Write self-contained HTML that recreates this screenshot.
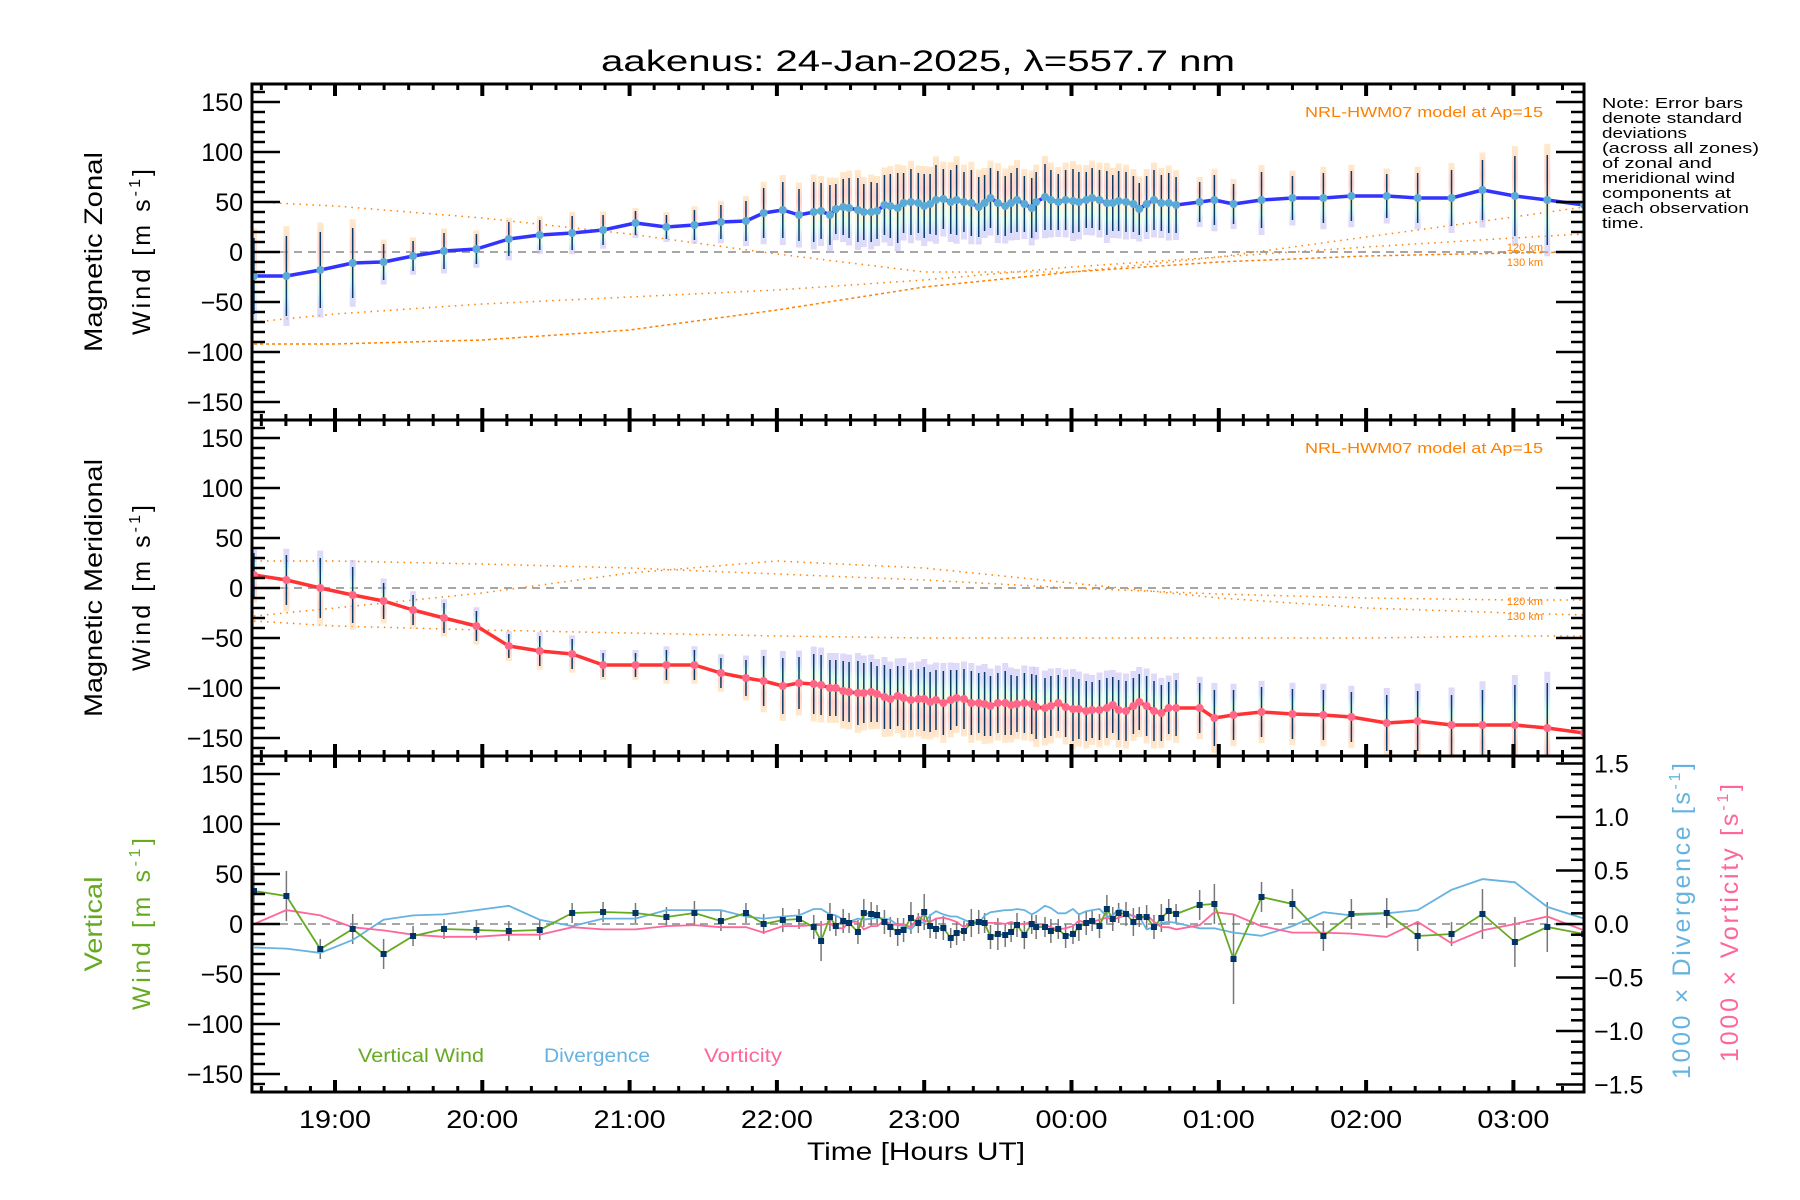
<!DOCTYPE html>
<html><head><meta charset="utf-8">
<style>
html,body{margin:0;padding:0;background:#fff;}
svg{display:block;font-family:"Liberation Sans",sans-serif;}
</style></head>
<body>
<svg id="chart" width="1800" height="1200" viewBox="0 0 1800 1200" xmlns="http://www.w3.org/2000/svg">
<defs>
<clipPath id="c1"><rect x="252" y="84" width="1332" height="336"/></clipPath>
<clipPath id="c2"><rect x="252" y="420" width="1332" height="336"/></clipPath>
<clipPath id="c3"><rect x="252" y="756" width="1332" height="336"/></clipPath>
<linearGradient id="gz" x1="0" y1="0" x2="0" y2="1">
<stop offset="0" stop-color="#ffd9a0"/><stop offset="0.3" stop-color="#ffb0a8"/><stop offset="0.55" stop-color="#ffe9b0"/><stop offset="0.7" stop-color="#c0ffe0"/><stop offset="0.85" stop-color="#b8c8ff"/><stop offset="1" stop-color="#c8b8f0"/></linearGradient>
<linearGradient id="gm" x1="0" y1="0" x2="0" y2="1">
<stop offset="0" stop-color="#c8b8f0"/><stop offset="0.2" stop-color="#b8c8ff"/><stop offset="0.35" stop-color="#c0ffe0"/><stop offset="0.5" stop-color="#ffe9b0"/><stop offset="0.7" stop-color="#ffb0a8"/><stop offset="1" stop-color="#ffd9a0"/></linearGradient>
</defs>
<text x="918" y="71" font-size="30" text-anchor="middle" textLength="634" lengthAdjust="spacingAndGlyphs">aakenus: 24-Jan-2025, λ=557.7 nm</text>
<g id="marks"></g>
<g id="axes"></g>
<text transform="translate(102,252) rotate(-90)" font-size="25" text-anchor="middle" textLength="200" lengthAdjust="spacingAndGlyphs">Magnetic Zonal</text>
<text transform="translate(150,252) rotate(-90)" font-size="25" text-anchor="middle" textLength="166" lengthAdjust="spacing">Wind [m s<tspan font-size="16" dy="-10">-1</tspan><tspan dy="10">]</tspan></text>
<text transform="translate(102,588) rotate(-90)" font-size="25" text-anchor="middle" textLength="258" lengthAdjust="spacingAndGlyphs">Magnetic Meridional</text>
<text transform="translate(150,588) rotate(-90)" font-size="25" text-anchor="middle" textLength="166" lengthAdjust="spacing">Wind [m s<tspan font-size="16" dy="-10">-1</tspan><tspan dy="10">]</tspan></text>
<text transform="translate(102,924) rotate(-90)" font-size="25" text-anchor="middle" fill="#66aa22" textLength="95" lengthAdjust="spacingAndGlyphs">Vertical</text>
<text transform="translate(150,924) rotate(-90)" font-size="25" text-anchor="middle" fill="#66aa22" textLength="172" lengthAdjust="spacing">Wind [m s<tspan font-size="16" dy="-10">-1</tspan><tspan dy="10">]</tspan></text>
<text transform="translate(1690,921) rotate(-90)" font-size="25" text-anchor="middle" fill="#66b3e0" textLength="316" lengthAdjust="spacing">1000 × Divergence [s<tspan font-size="16" dy="-10">-1</tspan><tspan dy="10">]</tspan></text>
<text transform="translate(1738,923) rotate(-90)" font-size="25" text-anchor="middle" fill="#ff6699" textLength="278" lengthAdjust="spacing">1000 × Vorticity [s<tspan font-size="16" dy="-10">-1</tspan><tspan dy="10">]</tspan></text>
<text x="916" y="1160" font-size="25" text-anchor="middle" textLength="218" lengthAdjust="spacingAndGlyphs">Time [Hours UT]</text>
<g font-size="15">
<text x="1602" y="108" textLength="141" lengthAdjust="spacingAndGlyphs">Note: Error bars</text>
<text x="1602" y="123" textLength="140" lengthAdjust="spacingAndGlyphs">denote standard</text>
<text x="1602" y="138" textLength="85" lengthAdjust="spacingAndGlyphs">deviations</text>
<text x="1602" y="153" textLength="157" lengthAdjust="spacingAndGlyphs">(across all zones)</text>
<text x="1602" y="168" textLength="110" lengthAdjust="spacingAndGlyphs">of zonal and</text>
<text x="1602" y="183" textLength="133" lengthAdjust="spacingAndGlyphs">meridional wind</text>
<text x="1602" y="198" textLength="129" lengthAdjust="spacingAndGlyphs">components at</text>
<text x="1602" y="213" textLength="147" lengthAdjust="spacingAndGlyphs">each observation</text>
<text x="1602" y="228" textLength="42" lengthAdjust="spacingAndGlyphs">time.</text>
</g>
<text x="1543" y="117" font-size="15" fill="#ff8000" text-anchor="end" textLength="238" lengthAdjust="spacingAndGlyphs">NRL-HWM07 model at Ap=15</text>
<text x="1543" y="453" font-size="15" fill="#ff8000" text-anchor="end" textLength="238" lengthAdjust="spacingAndGlyphs">NRL-HWM07 model at Ap=15</text>
<text x="1543" y="251" font-size="11" fill="#ff8000" text-anchor="end">120 km</text>
<text x="1543" y="266" font-size="11" fill="#ff8000" text-anchor="end">130 km</text>
<text x="1543" y="605" font-size="11" fill="#ff8000" text-anchor="end">120 km</text>
<text x="1543" y="620" font-size="11" fill="#ff8000" text-anchor="end">130 km</text>
<text x="358" y="1062" font-size="19" fill="#66aa22" textLength="126" lengthAdjust="spacingAndGlyphs">Vertical Wind</text>
<text x="544" y="1062" font-size="19" fill="#66b3e0" textLength="106" lengthAdjust="spacingAndGlyphs">Divergence</text>
<text x="704" y="1062" font-size="19" fill="#ff6699" textLength="78" lengthAdjust="spacingAndGlyphs">Vorticity</text>
</svg>
<script>
const times = [18.45,18.67,18.90,19.12,19.33,19.53,19.74,19.96,20.18,20.39,20.61,20.82,21.04,21.25,21.44,21.62,21.79,
21.91,22.04,22.15,22.25,22.30,22.36,22.40,22.45,22.49,22.55,22.59,22.64,22.68,22.73,22.77,22.82,22.86,22.91,22.96,23.00,23.04,23.08,23.13,23.18,23.22,23.27,23.32,23.37,23.41,23.45,23.50,23.55,23.59,23.63,23.68,23.73,23.76,23.82,23.86,23.91,23.96,24.01,24.05,24.10,24.14,24.19,24.24,24.28,24.32,24.37,24.42,24.46,24.51,24.56,24.61,24.66,24.71,
24.87,24.97,25.10,25.29,25.50,25.71,25.90,26.14,26.35,26.58,26.79,27.01,27.23,27.48];
const zonal = [-24,-24,-18,-11,-10,-4,1,3,13,17,19,22,29,25,27,30,31,
39,42,37,40,41,37,43,45,44,42,40,40,41,47,46,44,49,50,49,46,48,52,53,50,52,50,49,45,49,54,49,46,49,52,48,44,50,55,52,50,52,51,50,52,54,52,49,49,51,50,48,43,48,52,49,49,47,
50,52,48,52,54,54,56,56,54,54,62,56,52,47];
const zonalErr = [38,40,38,35,18,15,18,15,17,15,17,15,12,12,15,17,20,
25,28,26,30,28,30,25,28,30,32,28,30,28,30,32,35,30,33,30,32,30,35,30,32,35,30,33,30,28,30,32,30,30,32,28,30,30,33,30,28,30,32,30,28,30,30,32,28,30,30,28,26,28,30,28,30,28,
20,25,20,28,22,25,25,22,25,28,30,40,45,40];
const merid = [13,8,0,-7,-13,-22,-30,-38,-58,-63,-66,-77,-77,-77,-77,-85,-90,
-93,-98,-95,-96,-97,-100,-100,-103,-104,-105,-105,-104,-106,-109,-111,-108,-110,-112,-111,-111,-114,-112,-115,-112,-110,-111,-115,-115,-116,-118,-115,-115,-117,-116,-115,-116,-119,-120,-118,-115,-119,-121,-121,-123,-122,-122,-120,-117,-122,-123,-118,-114,-118,-123,-125,-120,-120,
-120,-130,-127,-124,-126,-127,-129,-135,-133,-137,-137,-137,-140,-145];
const meridErr = [22,25,30,28,18,15,15,15,12,15,15,12,12,15,15,15,18,
25,28,26,30,30,28,28,30,30,32,30,30,28,32,30,30,32,30,30,32,30,30,32,30,28,30,32,30,32,30,30,32,30,28,30,30,32,30,30,28,30,32,30,30,28,30,30,28,30,30,28,28,30,30,28,26,28,
25,28,25,25,25,25,25,28,30,30,35,40,45,45];
const vert = [33,28,-25,-5,-30,-12,-5,-6,-7,-6,11,12,11,7,11,3,11,
0,4,5,-3,-17,7,-2,3,1,-8,11,10,9,2,-3,-8,-6,6,1,12,-2,-5,-4,-14,-9,-7,1,2,1,-13,-10,-11,-8,-1,-11,0,-3,-3,-7,-5,-12,-10,-3,1,3,-2,15,5,11,10,2,7,7,-3,6,13,10,
19,20,-35,27,20,-12,10,11,-12,-10,10,-18,-3,-10];
const vertErr = [25,25,10,15,15,10,10,10,10,10,10,10,10,10,12,10,10,
10,12,10,12,20,14,10,12,10,12,14,12,10,12,10,14,12,16,10,18,12,10,12,10,12,10,14,12,10,12,16,12,10,12,14,10,12,10,12,10,12,10,14,12,10,12,14,12,10,12,14,10,12,12,14,12,10,
15,20,45,15,15,15,15,15,15,12,25,25,25,10];
const divergence = [-0.22,-0.23,-0.27,-0.15,0.04,0.08,0.09,0.13,0.17,0.04,-0.02,0.05,0.05,0.13,0.13,0.13,0.07,
0.05,0.07,0.08,0.14,0.14,0.09,0.08,0.04,0.02,0.05,0.04,0.05,0.06,0.05,0.04,-0.01,-0.02,-0.05,0.02,0.01,0.08,0.12,0.09,0.07,0.07,0.04,0.01,0.0,0.08,0.11,0.12,0.13,0.13,0.14,0.13,0.09,0.11,0.17,0.15,0.10,0.10,0.14,0.09,0.12,0.13,0.14,0.07,0.08,0.14,0.11,0.07,0.07,-0.05,-0.03,0.01,0.02,0.01,
-0.04,-0.04,-0.08,-0.11,-0.02,0.11,0.08,0.10,0.13,0.32,0.42,0.39,0.16,0.05];
const vorticity = [0.0,0.13,0.08,-0.03,-0.06,-0.1,-0.12,-0.12,-0.1,-0.1,-0.03,-0.05,-0.05,-0.02,-0.01,-0.03,-0.03,
-0.08,-0.02,-0.02,-0.01,-0.01,0.01,-0.04,-0.04,0.02,0.02,-0.05,-0.02,-0.02,0.03,0.0,-0.01,0.0,-0.03,0.07,0.03,0.02,0.05,0.06,0.04,0.02,-0.03,0.02,0.01,0.01,0.01,0.01,0.0,0.02,0.0,0.0,0.02,0.0,-0.01,-0.03,-0.05,-0.04,-0.02,0.03,0.01,0.02,0.04,0.06,0.04,0.06,0.08,0.08,0.04,0.09,0.02,-0.03,-0.03,-0.05,
-0.01,0.11,0.09,-0.02,-0.08,-0.08,-0.09,-0.12,0.02,-0.18,-0.06,0.0,0.07,-0.06];
const modelTimes = [18.45,19,20,21,22,23,24,25,26,27,27.48];
const zonalModelA = [50,46,34,18,-2,-20,-20,-5,15,35,45];
const zonalModelB = [-70,-62,-52,-45,-38,-28,-15,-5,5,14,18];
const zonalModelC = [-92,-92,-88,-78,-58,-35,-20,-10,-4,-1,0];
const meridModelA = [27,27,24,20,14,8,0,-6,-10,-12,-12];
const meridModelB = [-28,-20,-5,15,27,20,5,-10,-20,-25,-27];
const meridModelC = [-33,-38,-42,-45,-48,-50,-50,-50,-50,-48,-48];
const hourTicks = [19,20,21,22,23,24,25,26,27];
const hourLabels = ["19:00","20:00","21:00","22:00","23:00","00:00","01:00","02:00","03:00"];
const leftTicks = [-150,-100,-50,0,50,100,150];
const rightTicks = [-1.5,-1.0,-0.5,0.0,0.5,1.0,1.5];
const rightLabels = ["\u22121.5","\u22121.0","\u22120.5","0.0","0.5","1.0","1.5"];

const NS="http://www.w3.org/2000/svg";
const X0=252,X1=1584,T0=19-83/147.3,PXH=147.3;
const xs=t=>X0+(t-T0)*PXH;
const panelC=[252,588,924];
const yP=(p,v)=>panelC[p]-v;
const yR=v=>924-v*107;
const marks=document.getElementById('marks');
const axes=document.getElementById('axes');
function el(tag,attrs,parent){const e=document.createElementNS(NS,tag);for(const k in attrs)e.setAttribute(k,attrs[k]);parent.appendChild(e);return e;}
function grp(name,clip){const g=el('g',{},marks);if(clip)g.setAttribute('clip-path','url(#'+clip+')');


return g;}
function pts(ts,vs,f){return ts.map((t,i)=>xs(t).toFixed(1)+','+f(vs[i]).toFixed(1)).join(' ');}

[0,1,2].forEach(p=>{const g=grp('zero-line-'+(p+1),'c'+(p+1));
el('line',{x1:X0,x2:X1,y1:panelC[p],y2:panelC[p],stroke:'#888','stroke-width':1.5,'stroke-dasharray':'8,6'},g);});

function model(p,arr,name,dash){const g=grp(name,'c'+(p+1));
el('polyline',{points:pts(modelTimes,arr,v=>yP(p,v)),fill:'none',stroke:'#ff8000','stroke-width':1.5,'stroke-dasharray':dash},g);}
model(0,zonalModelA,'zonal-model-a','1.5,5');
model(0,zonalModelB,'zonal-model-b','1.5,5');
model(0,zonalModelC,'zonal-model-c','3,3');
model(1,meridModelA,'meridional-model-a','1.5,5');
model(1,meridModelB,'meridional-model-b','1.5,5');
model(1,meridModelC,'meridional-model-c','1.5,5');

function spread(p,vals,errs,grad,name){const g=grp(name,'c'+(p+1));
times.forEach((t,i)=>{const x=xs(t),y=yP(p,vals[i]),e=errs[i]*1.25;
const r=el('rect',{x:x-3,y:y-e,width:6,height:2*e,fill:'url(#'+grad+')',opacity:0.55},g);


const l=el('line',{x1:x,x2:x,y1:y-errs[i],y2:y+errs[i],stroke:'#0a3a66','stroke-width':1.5},g);

});}
spread(0,zonal,zonalErr,'gz','zonal-error-bars');
spread(1,merid,meridErr,'gm','meridional-error-bars');

function meanLine(p,vals,col,dot,name){const g=grp(name,'c'+(p+1));
el('polyline',{points:pts(times,vals,v=>yP(p,v)),fill:'none',stroke:col,'stroke-width':3.5,'stroke-linejoin':'round'},g);
times.forEach((t,i)=>{const c=el('circle',{cx:xs(t),cy:yP(p,vals[i]),r:4,fill:dot},g);

});}
meanLine(0,zonal,'#3333ff','#5aaad8','zonal-wind-line');
meanLine(1,merid,'#ff3333','#ff6688','meridional-wind-line');

{const g=grp('vertical-error-bars','c3');
times.forEach((t,i)=>{const x=xs(t),y=yP(2,vert[i]);
const l=el('line',{x1:x,x2:x,y1:y-vertErr[i],y2:y+vertErr[i],stroke:'#777','stroke-width':1.5},g);

});}
{const g=grp('divergence-line','c3');
el('polyline',{points:pts(times,divergence,yR),fill:'none',stroke:'#66b3e0','stroke-width':1.8},g);}
{const g=grp('vorticity-line','c3');
el('polyline',{points:pts(times,vorticity,yR),fill:'none',stroke:'#ff6699','stroke-width':1.8},g);}
{const g=grp('vertical-wind-line','c3');
el('polyline',{points:pts(times,vert,v=>yP(2,v)),fill:'none',stroke:'#66aa22','stroke-width':1.8},g);
times.forEach((t,i)=>{const r=el('rect',{x:xs(t)-3,y:yP(2,vert[i])-3,width:6,height:6,fill:'#003366'},g);

});}

function line(x1,y1,x2,y2,w,name){const l=el('line',{x1:x1,y1:y1,x2:x2,y2:y2,stroke:'#000','stroke-width':w},axes);
if(name){
}return l;}
el('rect',{x:X0,y:84,width:X1-X0,height:1008,fill:'none',stroke:'#000','stroke-width':3},axes);
line(X0,420,X1,420,3,'panel-divider-1');
line(X0,756,X1,756,3,'panel-divider-2');
const hLines=[84,420,756,1092];
for(let m=Math.ceil(T0*6);m/6<=27.48;m++){const t=m/6,x=xs(t);const major=(m%6===0);
const len=major?12:6,w=major?4:3;
hLines.forEach((hy,k)=>{if(k>0)line(x,hy,x,hy-len,w);if(k<3)line(x,hy,x,hy+len,w);});}
hourTicks.forEach((t,i)=>{const tx=el('text',{x:xs(t),y:1128,'font-size':25,'text-anchor':'middle',textLength:72,lengthAdjust:'spacingAndGlyphs'},axes);tx.textContent=hourLabels[i];

});
[0,1,2].forEach(p=>{for(let v=-160;v<=160;v+=10){const y=yP(p,v);const major=(v%50===0);const len=major?28:13;
line(X0,y,X0+len,y,2.5);
if(p<2)line(X1,y,X1-len,y,2.5);}
leftTicks.forEach(v=>{const s=v<0?'\u2212'+(-v):''+v;
const tx=el('text',{x:243,y:yP(p,v)+9,'font-size':25,'text-anchor':'end'},axes);tx.textContent=s;

});});
for(let k=-15;k<=15;k++){const v=k/10,y=yR(v);const major=(k%5===0);line(X1,y,X1-(major?28:13),y,2.5);}
rightTicks.forEach((v,i)=>{const tx=el('text',{x:1594,y:yR(v)+9,'font-size':25,'text-anchor':'start'},axes);tx.textContent=rightLabels[i];

});
</script>
</body></html>
